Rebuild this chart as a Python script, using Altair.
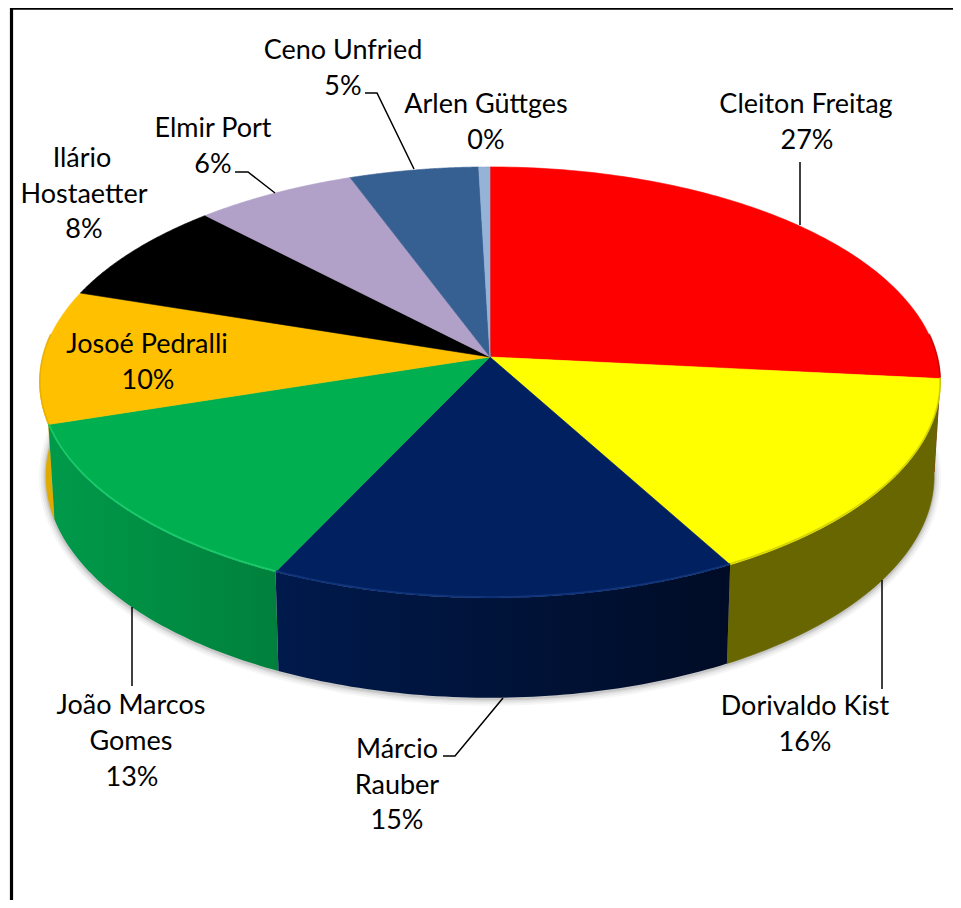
import numpy as np
import pandas as pd
import altair as alt

names = ["Cleiton Freitag", "Dorivaldo Kist", "Márcio Rauber", "João Marcos Gomes", "Josoé Pedralli",
         "Ilário Hostaetter", "Elmir Port", "Ceno Unfried", "Arlen Güttges"]
shares = [26.6, 15.4, 15.05, 13.0, 10.0, 7.8, 6.5, 5.2, 0.45]
top_colors = ["#ff0000", "#ffff00", "#002060", "#00b050", "#ffc000", "#000000", "#b1a0c7", "#376092", "#95b3d7"]
wall_left = ["#8a0000", "#686600", "#001a4c", "#009a4a", "#e0aa00", "#000000", "#8a7a9c", "#284870", "#7090b0"]
wall_right = ["#8a0000", "#686600", "#000c26", "#00803c", "#e0aa00", "#000000", "#8a7a9c", "#284870", "#7090b0"]
rim_colors = ["#c00000", "#c8c800", "#143a82", "#1fd070", "#e6ad00", "#000000", "#b1a0c7", "#376092", "#95b3d7"]

label_text = ["Cleiton Freitag", "27%", "Dorivaldo Kist", "16%", "Márcio", "Rauber", "15%", "João Marcos", "Gomes", "13%",
              "Josoé Pedralli", "10%", "Ilário", "Hostaetter", "8%", "Elmir Port", "6%", "Ceno Unfried", "5%",
              "Arlen Güttges", "0%"]
label_x = [806, 807, 805, 805, 397, 397, 397, 131, 131, 132, 147, 148, 82, 84, 84, 213, 213, 343, 343, 486, 486]
label_y = [105, 141, 707, 743, 750, 786, 821, 706, 742, 778, 345, 381, 159, 195, 230, 129, 165, 51, 87, 105, 141]

leaders = [
    ([800, 800], [162, 225]),
    ([882, 882], [580, 689]),
    ([503, 455, 443], [698, 756, 756]),
    ([132, 132], [607, 686]),
    ([235, 248, 275], [172, 172, 193]),
    ([365, 377, 414], [93, 93, 169]),
]
frame_x = [[10, 961], [11.5, 11.5]]
frame_y = [[8, 8], [8, 908]]
frame_w = [3.5, 3.2]

W, H = 945, 892
xs = alt.Scale(domain=[8, 8 + W], range=[0, W], nice=False, zero=False)
ys = alt.Scale(domain=[8, 8 + H], range=[0, H], nice=False, zero=False)
X = alt.X("x:Q", scale=xs, axis=None)
Y = alt.Y("y:Q", scale=ys, axis=None)


def rim(angle_deg, plane="top"):
    a = np.radians(angle_deg)
    u, v = np.sin(a), -np.cos(a)
    k = -0.118
    if plane == "top":
        return 490 + 447 * u / (1 + k * v), 357 + 212.5 * v / (1 + k * v)
    return 490 + 441 * u / (1 + k * v), 357 + 93 + 218.5 * v / (1 + k * v)


def frame(xv, yv):
    return pd.DataFrame({"x": xv, "y": yv, "i": range(len(xv))})


def poly(df, fill, stroke):
    return alt.Chart(df).mark_line(interpolate="linear-closed", fill=fill, stroke=stroke, strokeWidth=0.6).encode(
        x=X, y=Y, order=alt.Order("i:Q"))


edges = np.concatenate([[0], np.cumsum(shares)]) / np.sum(shares) * 360
layers = []

# soft shadow under the lower rim
sa = np.linspace(80, 280, 160)
sx, sy = rim(sa, "bottom")
for w, op in [(14, 0.05), (10, 0.07), (6, 0.10), (3, 0.15)]:
    layers.append(alt.Chart(frame(sx, sy + 1)).mark_line(stroke="#555555", strokeWidth=w, opacity=op).encode(
        x=X, y=Y, order=alt.Order("i:Q")))

# walls, back to front
LOW, HIGH = 84, 276
walls = []
for i in range(len(shares)):
    a1, a2 = max(edges[i], LOW), min(edges[i + 1], HIGH)
    if a2 <= a1:
        continue
    arc = np.linspace(a1, a2, 60)
    tx, ty = rim(arc, "top")
    bx, by = rim(arc[::-1], "bottom")
    df = frame(np.concatenate([tx, bx]), np.concatenate([ty, by]))
    fill = alt.Gradient(gradient="linear", x1=0, x2=1, y1=0, y2=0,
                        stops=[alt.GradientStop(color=wall_left[i], offset=0),
                               alt.GradientStop(color=wall_right[i], offset=1)])
    walls.append((abs(180 - (a1 + a2) / 2), poly(df, fill, wall_left[i] if wall_left[i] == wall_right[i] else None)))
for _, c in sorted(walls, key=lambda t: -t[0]):
    layers.append(c)

# top faces
for i in range(len(shares)):
    arc = np.linspace(edges[i], edges[i + 1], 100)
    tx, ty = rim(arc, "top")
    df = frame(np.concatenate([[490], tx]), np.concatenate([[357], ty]))
    layers.append(poly(df, top_colors[i], top_colors[i]))

# bevel along the front of the top face
for i in range(len(shares)):
    a1, a2 = max(edges[i], LOW), min(edges[i + 1], HIGH)
    if a2 <= a1:
        continue
    arc = np.linspace(a1, a2, 60)
    tx, ty = rim(arc, "top")
    layers.append(alt.Chart(frame(tx, ty - 1)).mark_line(stroke=rim_colors[i], strokeWidth=1.6, opacity=0.8).encode(
        x=X, y=Y, order=alt.Order("i:Q")))

# leader lines
for lx, ly in leaders:
    layers.append(alt.Chart(frame(lx, ly)).mark_line(stroke="#000000", strokeWidth=1.5).encode(
        x=X, y=Y, order=alt.Order("i:Q")))

# frame
for fx, fy, fw in zip(frame_x, frame_y, frame_w):
    layers.append(alt.Chart(frame(fx, fy)).mark_line(stroke="#000000", strokeWidth=fw, clip=True).encode(
        x=X, y=Y, order=alt.Order("i:Q")))

labels = pd.DataFrame({"x": label_x, "y": label_y, "t": label_text})
layers.append(alt.Chart(labels).mark_text(font="Lato", fontSize=27, color="#000000", align="center",
                                          baseline="middle").encode(x=X, y=Y, text="t:N"))

chart = alt.layer(*layers).properties(width=W, height=H, padding=0, background="#ffffff",
                                      autosize=alt.AutoSizeParams(type="none")).configure_view(stroke=None)
chart.save("out.html", embed_options={"renderer": "svg", "actions": False})
